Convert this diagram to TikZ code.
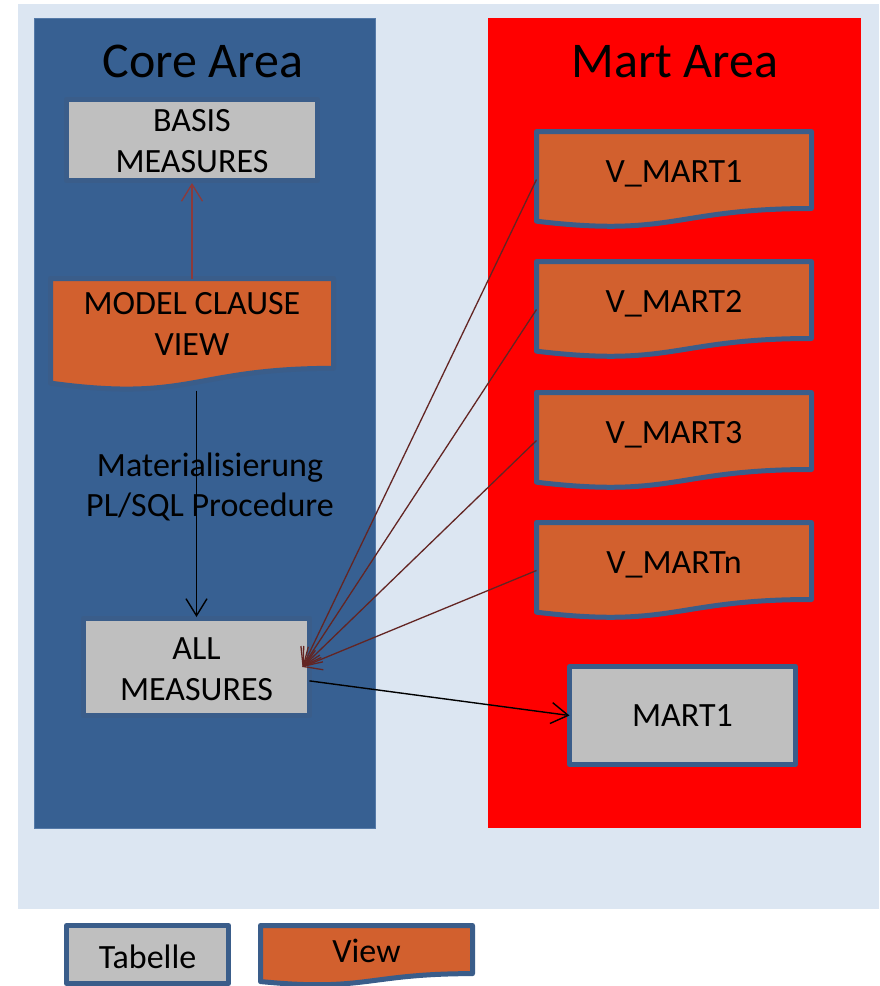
\documentclass[tikz,border=0pt]{standalone}
\usepackage{fontspec}
\setmainfont{Carlito}
\usetikzlibrary{arrows.meta,calc}
\pgfdeclarelayer{back}
\pgfdeclarelayer{mid}
\pgfsetlayers{back,mid,main}
\definecolor{bgblue}{RGB}{220,230,242}
\definecolor{coreblue}{RGB}{55,96,146}
\definecolor{coreedge}{RGB}{85,122,168}
\definecolor{martred}{RGB}{255,0,0}
\definecolor{vieworange}{RGB}{210,96,46}
\definecolor{tabgray}{RGB}{191,191,191}
\definecolor{outline}{RGB}{58,93,138}
\definecolor{linkred}{RGB}{99,37,35}
\definecolor{uparrowcol}{RGB}{140,58,58}
\tikzset{
  boxfont/.style={font=\fontsize{34}{41}\selectfont},
  titlefont/.style={font=\fontsize{50}{60}\selectfont},
  tablebox/.style={draw=outline, fill=tabgray, line width=5pt, line join=round,
    inner sep=0pt, outer sep=0pt, align=center, boxfont, text height=21pt},
  viewtext/.style={inner sep=0pt, outer sep=0pt, align=center, boxfont, text height=21pt},
  docpath/.style={draw=outline, fill=vieworange, line width=5pt, line join=round},
  barb/.style={-{Straight Barb[length=17pt,width=21pt]}},
}
\newcommand{\mkdocshape}[1]{%
  \begin{pgfonlayer}{mid}
  \path[docpath] (#1.north west) -- (#1.north east)
    -- ($(#1.north east)!0.802!(#1.south east)$)
    .. controls ($(#1.north)!0.802!(#1.south)$) and ($(#1.north)!1.107!(#1.south)$)
    .. ($(#1.north west)!0.934!(#1.south west)$) -- cycle;
  \end{pgfonlayer}}
\begin{document}
\begin{tikzpicture}[x=1pt,y=-1pt]
\useasboundingbox (0,0) rectangle (879,986);
\begin{pgfonlayer}{back}
\fill[white] (0,0) rectangle (879,986);
\fill[bgblue] (18,4) rectangle (879,909);
\filldraw[fill=coreblue, draw=coreedge, line width=0.8pt] (34,18) rectangle (375,828);
\fill[martred] (488,18) rectangle (861,828);
\end{pgfonlayer}

% titles
\node[titlefont, anchor=base, inner sep=0pt] (coretitle) at (203,77) {Core Area};
\node[titlefont, anchor=base, inner sep=0pt] (marttitle) at (675,77) {Mart Area};

% core area
\node[tablebox, minimum width=251pt, minimum height=81pt, text height=64pt, text depth=0pt] (basis) at (192,140) {BASIS\\MEASURES};
\node[viewtext, minimum width=283pt, minimum height=112pt, text height=41pt, text depth=0pt] (model) at (192,334.5) {MODEL CLAUSE\\VIEW};
\mkdocshape{model}
\node[tablebox, minimum width=226pt, minimum height=97pt, text height=66pt, text depth=0pt] (all) at (196.5,667) {ALL\\MEASURES};
\node[font=\fontsize{34}{39.5}\selectfont, align=center, anchor=base, inner sep=0pt] (lbl) at (210,516) {Materialisierung\\PL/SQL Procedure};

% mart area
\node[viewtext, minimum width=275pt, minimum height=96pt, text depth=16pt] (vm1) at (674,179.5) {V\_MART1};
\node[viewtext, minimum width=275pt, minimum height=96pt, text depth=16pt] (vm2) at (674,309.5) {V\_MART2};
\node[viewtext, minimum width=275pt, minimum height=96pt, text depth=16pt] (vm3) at (674,440.5) {V\_MART3};
\node[viewtext, minimum width=275pt, minimum height=96pt, text depth=16pt] (vmn) at (674,570.5) {V\_MARTn};
\mkdocshape{vm1}
\mkdocshape{vm2}
\mkdocshape{vm3}
\mkdocshape{vmn}
\node[tablebox, minimum width=226pt, minimum height=98pt, text depth=0pt] (mart1) at (682.5,715.5) {MART1};

% legend
\node[tablebox, minimum width=162pt, minimum height=58pt, text height=27pt, text depth=0pt] (legtab) at (147.5,954.5) {Tabelle};
\node[viewtext, minimum width=212pt, minimum height=60pt, text depth=8pt] (legview) at (366.5,955.5) {View};
\mkdocshape{legview}

% connectors
\draw[uparrowcol, line width=1.3pt, barb, shorten >=2.5pt] (model.north) -- (basis.south);
\draw[black, line width=1.4pt, barb, shorten >=1.5pt] (model.south -| all.north) -- (all.north);
\coordinate (conv) at ([xshift=-7pt]all.east);
\foreach \v in {vm1,vm2,vm3,vmn}
  \draw[linkred, line width=1.3pt, barb] (\v.west) -- (conv);
\draw[black, line width=1.4pt, barb] (all.-7.5) -- (mart1.west);
\end{tikzpicture}
\end{document}
